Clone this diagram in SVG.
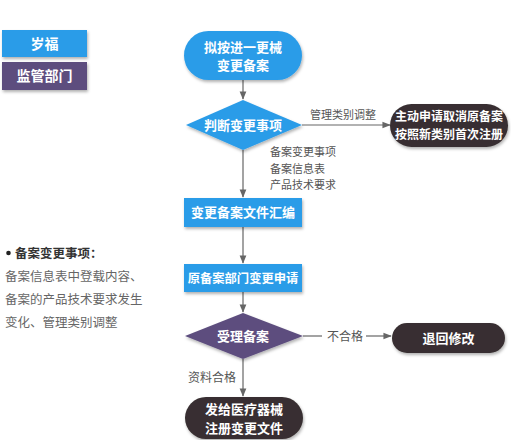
<svg xmlns="http://www.w3.org/2000/svg" width="511" height="440" viewBox="0 0 511 440">
<defs>
<filter id="sh" x="-10%" y="-10%" width="125%" height="135%">
<feDropShadow dx="1" dy="2" stdDeviation="1.5" flood-color="#000" flood-opacity="0.3"/>
</filter>
<marker id="ar" viewBox="0 0 10 10" refX="9" refY="5" markerWidth="7" markerHeight="7" orient="auto">
<path d="M0,1 L10,5 L0,9 z" fill="#666"/>
</marker>
<style>
.blue{fill:#2b9ce8}
.purple{fill:#5d4e7e}
.dark{fill:#372f30}
.nt{font-family:"Noto Sans CJK SC","Noto Sans",sans-serif;font-weight:bold;font-size:13px;fill:#fff;text-anchor:middle}
.lb{font-family:"Noto Sans CJK SC","Noto Sans",sans-serif;font-size:11px;fill:#555}
.side{font-family:"Noto Sans CJK SC","Noto Sans",sans-serif;font-size:12.5px;fill:#666}
.ln{stroke:#666;stroke-width:1.2;fill:none}
</style>
</defs>
<rect width="511" height="440" fill="#fff"/>
<g id="legend-blue"><rect x="2" y="30" width="85" height="27" class="blue" filter="url(#sh)"/><text x="44.5" y="48.5" class="nt" style="font-size:14px">岁福</text></g>
<g id="legend-purple"><rect x="2" y="62" width="85" height="28" class="purple" filter="url(#sh)"/><text x="44.5" y="81" class="nt" style="font-size:14px">监管部门</text></g>
<g id="connectors">
<line x1="243" y1="80" x2="243" y2="99" class="ln" marker-end="url(#ar)"/>
<line x1="302" y1="125" x2="390" y2="125" class="ln" marker-end="url(#ar)"/>
<text x="310" y="119" class="lb">管理类别调整</text>
<line x1="243" y1="150" x2="243" y2="197" class="ln" marker-end="url(#ar)"/>
<text x="270" y="156" class="lb">备案变更事项</text>
<text x="270" y="173" class="lb">备案信息表</text>
<text x="270" y="189" class="lb">产品技术要求</text>
<line x1="243" y1="227" x2="243" y2="263" class="ln" marker-end="url(#ar)"/>
<line x1="243" y1="292" x2="243" y2="312" class="ln" marker-end="url(#ar)"/>
<line x1="303" y1="336" x2="322" y2="336" class="ln"/>
<text x="327" y="341" class="lb" style="font-size:12px">不合格</text>
<line x1="366" y1="336" x2="391" y2="336" class="ln" marker-end="url(#ar)"/>
<line x1="243" y1="359" x2="243" y2="396" class="ln" marker-end="url(#ar)"/>
<text x="188" y="382" class="lb" style="font-size:12px">资料合格</text>
</g>
<g id="start"><rect x="184" y="31" width="118" height="49" rx="24.5" class="blue" filter="url(#sh)"/><text x="243" y="52" class="nt">拟按进一更械</text><text x="243" y="70" class="nt">变更备案</text></g>
<g id="judge"><polygon points="186,125 243,100 302,125 243,150" class="blue" filter="url(#sh)"/><text x="243" y="130" class="nt">判断变更事项</text></g>
<g id="cancel"><rect x="390" y="104" width="118" height="43" rx="21.5" class="dark" filter="url(#sh)"/><text x="449" y="121" class="nt" style="font-size:12px">主动申请取消原备案</text><text x="449" y="139" class="nt" style="font-size:12px">按照新类别首次注册</text></g>
<g id="compile"><rect x="184" y="198" width="118" height="29" class="blue" filter="url(#sh)"/><text x="243" y="217" class="nt">变更备案文件汇编</text></g>
<g id="apply"><rect x="184" y="264" width="118" height="28" class="blue" filter="url(#sh)"/><text x="243" y="283" class="nt" style="font-size:12.3px">原备案部门变更申请</text></g>
<g id="accept"><polygon points="185,336 243,313 303,336 243,359" class="purple" filter="url(#sh)"/><text x="243" y="341" class="nt">受理备案</text></g>
<g id="return"><rect x="392" y="323" width="113" height="30" rx="15" class="dark" filter="url(#sh)"/><text x="448.5" y="343" class="nt">退回修改</text></g>
<g id="issue"><rect x="185" y="397" width="118" height="42" rx="21" class="dark" filter="url(#sh)"/><text x="244" y="414" class="nt">发给医疗器械</text><text x="244" y="433" class="nt">注册变更文件</text></g>
<g id="note">
<circle cx="8.5" cy="253" r="2.3" fill="#222"/>
<text x="15" y="258" class="side" style="font-weight:bold;fill:#333">备案变更事项：</text>
<text x="5" y="281" class="side">备案信息表中登载内容、</text>
<text x="5" y="304" class="side">备案的产品技术要求发生</text>
<text x="5" y="327" class="side">变化、管理类别调整</text>
</g>
</svg>
